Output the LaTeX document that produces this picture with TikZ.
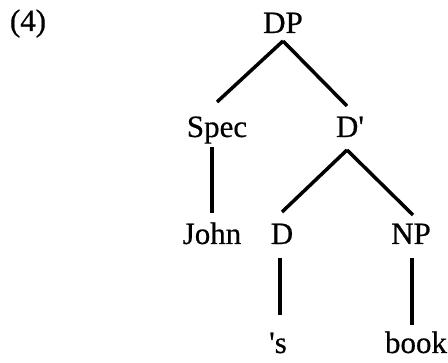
\documentclass[tikz,border=0pt]{standalone}
\usepackage{fontspec}
\setmainfont{Liberation Serif}
\newfontfamily\treefont{Liberation Serif}[FakeBold=0.5]
\begin{document}
\begin{tikzpicture}[x=1pt,y=1pt,
  lab/.style={anchor=base,inner sep=0pt,font=\treefont\fontsize{31}{36}\selectfont},
  edge/.style={line width=3.5pt}]
\useasboundingbox (0,0) rectangle (448,363);
\node[lab] (ex) at (28,332) {(4)};
\node[lab] (DP) at (283,330) {DP};
\node[lab] (Spec) at (217,226) {Spec};
\node[lab] (Dbar) at (350,226) {D\textquotesingle};
\node[lab] (John) at (212,119) {John};
\node[lab] (D) at (282,119) {D};
\node[lab] (NP) at (411,119) {NP};
\node[lab] (s) at (278,10) {\textquotesingle s};
\node[lab] (book) at (416,10) {book};
\draw[edge] ([yshift=-8pt]DP.base) -- ([yshift=35pt]Spec.base);
\draw[edge] ([yshift=-8pt]DP.base) -- ([xshift=-3pt,yshift=31pt]Dbar.base);
\draw[edge] ([yshift=-10pt]John.base |- Spec.base) -- ([yshift=31pt]John.base);
\draw[edge] ([xshift=-3pt,yshift=-13pt]Dbar.base) -- ([yshift=32pt]D.base);
\draw[edge] ([xshift=-3pt,yshift=-13pt]Dbar.base) -- ([xshift=2pt,yshift=29pt]NP.base);
\draw[edge] ([xshift=-2pt,yshift=-14pt]D.base) -- ([xshift=-2pt,yshift=-71pt]D.base);
\draw[edge] ([xshift=1pt,yshift=-14pt]NP.base) -- ([xshift=1pt,yshift=-81pt]NP.base);
\end{tikzpicture}
\end{document}
